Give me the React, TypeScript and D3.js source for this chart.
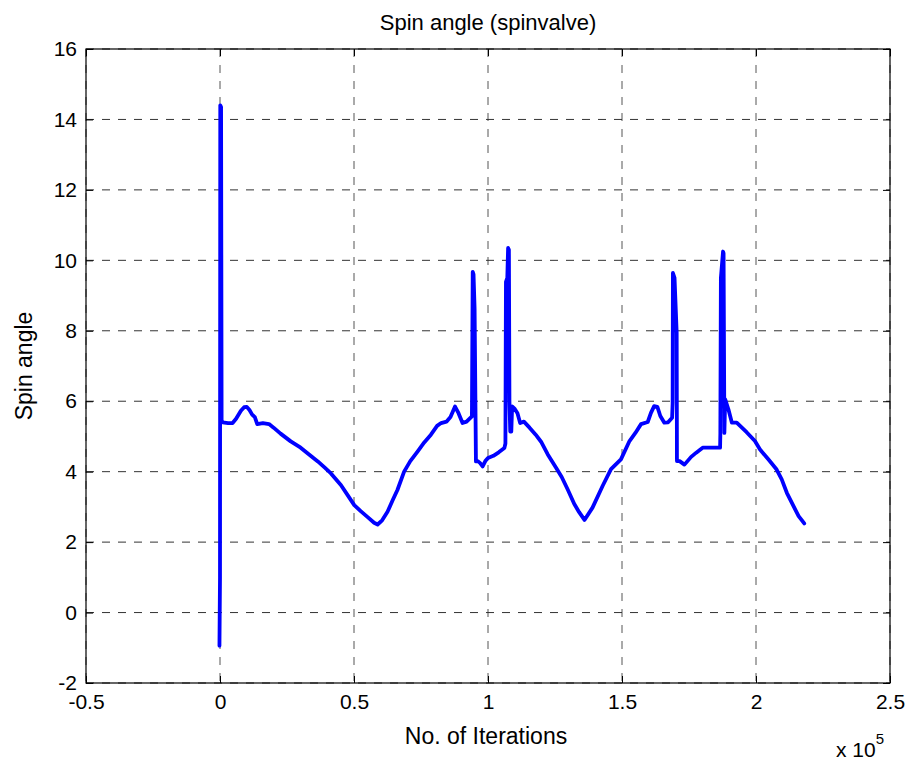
import React, { useEffect, useRef } from "react";
import * as d3 from "d3";

// iterations in units of 1e5, spin angle
const iterations = [
  -0.002, 0.0, 0.001, 0.004, 0.006, 0.01, 0.03, 0.047, 0.06, 0.078, 0.09, 0.1, 0.11, 0.12, 0.13, 0.139,
  0.16, 0.183, 0.2, 0.226, 0.264, 0.301, 0.33, 0.365, 0.39, 0.414, 0.451, 0.475, 0.501, 0.525, 0.551,
  0.575, 0.588, 0.605, 0.625, 0.645, 0.662, 0.687, 0.71, 0.737, 0.762, 0.787, 0.81, 0.825, 0.845, 0.86,
  0.877, 0.89, 0.905, 0.92, 0.94, 0.943, 0.946, 0.95, 0.955, 0.962, 0.97, 0.98, 0.99, 1.0, 1.02, 1.04,
  1.061, 1.065, 1.067, 1.072, 1.075, 1.078, 1.08, 1.083, 1.087, 1.09, 1.1, 1.11, 1.12, 1.134, 1.155,
  1.178, 1.198, 1.223, 1.254, 1.275, 1.297, 1.322, 1.34, 1.36, 1.39, 1.428, 1.459, 1.496, 1.528, 1.55,
  1.571, 1.596, 1.608, 1.62, 1.632, 1.643, 1.658, 1.672, 1.687, 1.689, 1.69, 1.696, 1.704, 1.705, 1.715,
  1.733, 1.758, 1.777, 1.801, 1.866, 1.867, 1.869, 1.877, 1.879, 1.882, 1.885, 1.897, 1.91, 1.928, 1.965,
  1.996, 2.015, 2.046, 2.077, 2.096, 2.115, 2.14, 2.159, 2.18,
];
const spinAngle = [
  -0.94, 1.0, 14.4, 14.35, 5.45, 5.4, 5.38, 5.38, 5.5, 5.73, 5.83, 5.84, 5.75, 5.62, 5.55, 5.35,
  5.38, 5.35, 5.25, 5.08, 4.86, 4.68, 4.5, 4.29, 4.12, 3.95, 3.62, 3.35, 3.05, 2.88, 2.71,
  2.55, 2.5, 2.62, 2.86, 3.2, 3.48, 4.0, 4.3, 4.57, 4.83, 5.05, 5.3, 5.38, 5.42, 5.55,
  5.85, 5.66, 5.38, 5.42, 5.57, 9.67, 9.6, 8.63, 4.29, 4.3, 4.25, 4.15, 4.3, 4.39, 4.45, 4.55,
  4.67, 4.8, 9.39, 9.5, 10.35, 10.3, 6.0, 5.14, 5.14, 5.85, 5.78, 5.66, 5.38, 5.42, 5.25,
  5.05, 4.85, 4.49, 4.11, 3.85, 3.5, 3.08, 2.85, 2.63, 2.98, 3.6, 4.07, 4.35, 4.87, 5.1,
  5.35, 5.41, 5.67, 5.86, 5.84, 5.58, 5.39, 5.4, 5.53, 5.95, 9.64, 9.5, 7.94, 4.3, 4.3,
  4.2, 4.42, 4.54, 4.68, 4.68, 5.1, 9.5, 10.25, 10.2, 5.1, 6.05, 5.77, 5.39, 5.39, 5.12,
  4.87, 4.63, 4.35, 4.06, 3.78, 3.4, 3.02, 2.74, 2.53,
];

const xTicks = [-0.5, 0, 0.5, 1, 1.5, 2, 2.5];
const xTickLabels = ["-0.5", "0", "0.5", "1", "1.5", "2", "2.5"];
const yTicks = [-2, 0, 2, 4, 6, 8, 10, 12, 14, 16];
const yTickLabels = ["-2", "0", "2", "4", "6", "8", "10", "12", "14", "16"];

const W = 914;
const H = 765;
const FONT = "'Liberation Sans', Arial, Helvetica, sans-serif";

export default function App() {
  const svgRef = useRef<SVGSVGElement>(null);

  useEffect(() => {
    const margin = { top: 49, right: 24, bottom: 82, left: 86 };
    const innerW = W - margin.left - margin.right;
    const innerH = H - margin.top - margin.bottom;

    const root = d3.select(svgRef.current);
    root.selectAll("*").remove();
    root.append("rect").attr("width", W).attr("height", H).attr("fill", "white");

    const g = root.append("g").attr("transform", `translate(${margin.left},${margin.top})`);

    const x = d3.scaleLinear().domain([-0.5, 2.5]).range([0, innerW]);
    const y = d3.scaleLinear().domain([-2, 16]).range([innerH, 0]);

    // dashed grid
    g.append("g")
      .selectAll("line")
      .data(xTicks)
      .join("line")
      .attr("x1", (d) => x(d))
      .attr("x2", (d) => x(d))
      .attr("y1", 0)
      .attr("y2", innerH)
      .attr("stroke", "#555")
      .attr("stroke-width", 1)
      .attr("stroke-dasharray", "8,8");
    g.append("g")
      .selectAll("line")
      .data(yTicks)
      .join("line")
      .attr("x1", 0)
      .attr("x2", innerW)
      .attr("y1", (d) => y(d))
      .attr("y2", (d) => y(d))
      .attr("stroke", "#333")
      .attr("stroke-width", 1)
      .attr("stroke-dasharray", "8,8");

    // data line
    const pts = iterations.map((d, i) => [d, spinAngle[i]] as [number, number]);
    const line = d3
      .line<[number, number]>()
      .x((d) => x(d[0]))
      .y((d) => y(d[1]));
    g.append("path")
      .datum(pts)
      .attr("d", line)
      .attr("fill", "none")
      .attr("stroke", "#0000ff")
      .attr("stroke-width", 3.8)
      .attr("stroke-linejoin", "round")
      .attr("stroke-linecap", "round");

    // axes, ticks pointing inwards
    const styleAxis = (sel: any, showText: boolean) => {
      sel.select(".domain").remove();
      sel.selectAll("line").attr("stroke", "#000");
      sel
        .selectAll("text")
        .style("font-family", FONT)
        .style("font-size", "21px")
        .attr("fill", "#000")
        .style("display", showText ? null : "none");
    };

    g.append("g")
      .attr("transform", `translate(0,${innerH})`)
      .call(
        d3.axisBottom(x).tickValues(xTicks).tickSize(-7).tickPadding(11)
          .tickFormat((d, i) => xTickLabels[i])
      )
      .call((s: any) => styleAxis(s, true));
    g.append("g")
      .call(d3.axisTop(x).tickValues(xTicks).tickSize(-7))
      .call((s: any) => styleAxis(s, false));
    g.append("g")
      .call(
        d3.axisLeft(y).tickValues(yTicks).tickSize(-7).tickPadding(9)
          .tickFormat((d, i) => yTickLabels[i])
      )
      .call((s: any) => styleAxis(s, true));
    g.append("g")
      .attr("transform", `translate(${innerW},0)`)
      .call(d3.axisRight(y).tickValues(yTicks).tickSize(-7))
      .call((s: any) => styleAxis(s, false));

    g.append("rect")
      .attr("width", innerW)
      .attr("height", innerH)
      .attr("fill", "none")
      .attr("stroke", "#000")
      .attr("stroke-width", 1.2);

    // titles
    root.append("text")
      .attr("x", margin.left + innerW / 2)
      .attr("y", 30)
      .attr("text-anchor", "middle")
      .style("font-family", FONT)
      .style("font-size", "22px")
      .text("Spin angle (spinvalve)");

    root.append("text")
      .attr("x", margin.left + innerW / 2 - 2)
      .attr("y", 744)
      .attr("text-anchor", "middle")
      .style("font-family", FONT)
      .style("font-size", "23px")
      .text("No. of Iterations");

    root.append("text")
      .attr("transform", `translate(32,${margin.top + innerH / 2}) rotate(-90)`)
      .attr("text-anchor", "middle")
      .style("font-family", FONT)
      .style("font-size", "23px")
      .text("Spin angle");

    const mult = root.append("text")
      .attr("x", 836)
      .attr("y", 757)
      .style("font-family", FONT)
      .style("font-size", "21px");
    mult.append("tspan").text("x 10");
    mult.append("tspan").attr("dy", -13).style("font-size", "15px").text("5");
  }, []);

  return (
    <div style={{ position: "absolute", left: 0, top: 0 }}>
      <svg ref={svgRef} width={W} height={H} style={{ display: "block" }} />
    </div>
  );
}
